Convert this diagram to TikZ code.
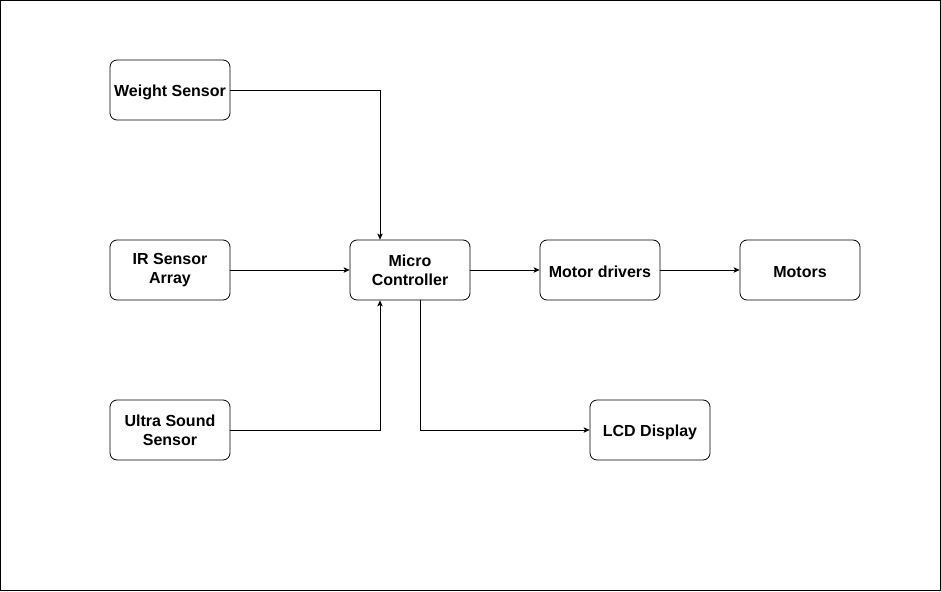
\documentclass[tikz,border=0pt]{standalone}
\usepackage{fontspec}
\setmainfont{Liberation Sans}
\usetikzlibrary{arrows.meta}
\begin{document}
\begin{tikzpicture}[x=1pt,y=-1pt,
  blk/.style={draw, rounded corners=7pt, minimum width=120pt, minimum height=60pt, inner sep=0pt, align=center, font=\bfseries\fontsize{16pt}{19pt}\selectfont, line width=0.8pt, execute at begin node={\rule{0pt}{15.5pt}}},
  conn/.style={line width=0.8pt, -{Stealth[length=6pt,width=5.5pt,inset=1.5pt]}}]
\useasboundingbox (0,0) rectangle (941,591);
\draw[line width=1pt] (0.5,0.5) rectangle (940.5,590.5);
\node[blk] (ws) at (170,90) {Weight Sensor};
\node[blk] (ir) at (170,270) {IR Sensor\\Array};
\node[blk] (us) at (170,430) {Ultra Sound\\Sensor};
\node[blk] (mc) at (410,270) {Micro\\Controller};
\node[blk] (md) at (600,270) {Motor drivers};
\node[blk] (mo) at (800,270) {Motors};
\node[blk] (lcd) at (650,430) {LCD Display};
\coordinate (wsc) at (380,90);
\coordinate (usc) at (380,430);
\coordinate (mcl) at (420,430);
\draw[conn] (ws.east) -- (wsc) -- (mc.north -| wsc);
\draw[conn] (ir.east) -- (mc.west);
\draw[conn] (us.east) -- (usc) -- (mc.south -| usc);
\draw[conn] (mc.east) -- (md.west);
\draw[conn] (md.east) -- (mo.west);
\draw[conn] (mc.south -| mcl) -- (mcl) -- (lcd.west);
\end{tikzpicture}
\end{document}
